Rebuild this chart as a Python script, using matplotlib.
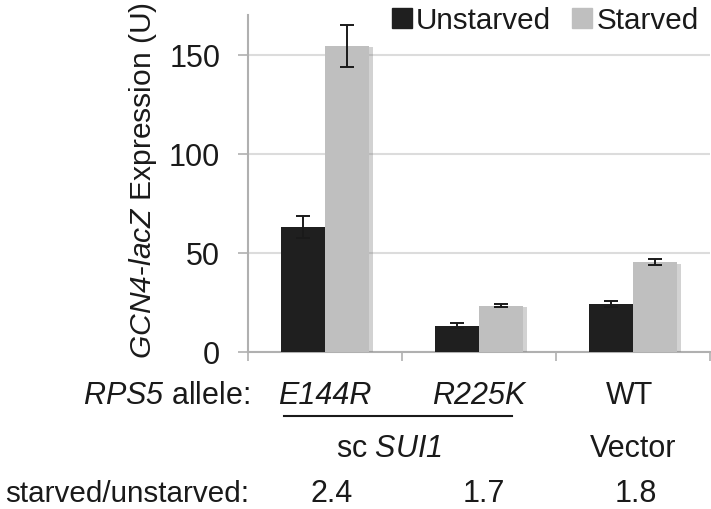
import matplotlib
matplotlib.use('Agg')
import matplotlib.pyplot as plt
import matplotlib.patheffects as pe
from matplotlib.transforms import blended_transform_factory
from matplotlib.patches import Patch
import numpy as np

# data
alleles = ['E144R', 'R225K', 'WT']
unstarved = [63.1, 13.3, 24.2]
unstarved_err = [5.6, 1.2, 1.4]
starved = [154.4, 23.4, 45.3]
starved_err = [10.6, 0.8, 1.5]
ratios = ['2.4', '1.7', '1.8']

plt.rcParams['font.family'] = 'Liberation Sans'
plt.rcParams['mathtext.fontset'] = 'custom'
plt.rcParams['mathtext.rm'] = 'Liberation Sans'
plt.rcParams['mathtext.sf'] = 'Liberation Sans:italic'   # used for italic gene names (keeps digits italic)
plt.rcParams['text.color'] = '#1a1a1a'

FS = 22
W, H = 711, 510
fig = plt.figure(figsize=(W / 100, H / 100), dpi=100)
ax = fig.add_axes([248 / W, 1 - 353 / H, 462 / W, 337 / H])

x = np.arange(len(alleles))
bw = 0.286
shadow = [pe.SimplePatchShadow(offset=(2.5, -1), shadow_rgbFace='#808080', alpha=0.35), pe.Normal()]
b1 = ax.bar(x - bw / 2, unstarved, bw, color='#1f1f1f', zorder=3)
b2 = ax.bar(x + bw / 2, starved, bw, color='#bfbfbf', zorder=3)
for b in list(b1) + list(b2):
    b.set_path_effects(shadow)
ax.errorbar(x - bw / 2, unstarved, yerr=unstarved_err, fmt='none', ecolor='#1a1a1a',
            elinewidth=1.4, capsize=5, capthick=1.4, zorder=4)
ax.errorbar(x + bw / 2, starved, yerr=starved_err, fmt='none', ecolor='#1a1a1a',
            elinewidth=1.4, capsize=5, capthick=1.4, zorder=4)

ax.set_xlim(-0.5, 2.5)
ax.set_ylim(0, 170)
ax.set_yticks([0, 50, 100, 150])
ax.set_xticks([-0.5, 0.5, 1.5, 2.5])
ax.set_xticklabels([])
ax.tick_params(axis='y', labelsize=FS, length=7, width=1.2, color='#b0b0b0', pad=13,
               labelcolor='#1a1a1a')
ax.tick_params(axis='x', length=6.5, width=1.2, color='#b0b0b0')
ax.grid(axis='y', color='#dcdcdc', lw=1.5, zorder=0)
ax.set_axisbelow(True)
for s in ['top', 'right']:
    ax.spines[s].set_visible(False)
for s in ['left', 'bottom']:
    ax.spines[s].set_color('#b0b0b0')
    ax.spines[s].set_linewidth(1.5)

fig.text(151 / W, 1 - 181 / H, r'$\mathsf{GCN4}$-$\mathsf{lacZ}$ Expression (U)',
         rotation=90, rotation_mode='anchor', ha='center', va='baseline', fontsize=21.6)

handles = [Patch(color='#1f1f1f'), Patch(color='#bfbfbf')]
ax.legend(handles, ['Unstarved', 'Starved'], ncol=2, frameon=False, fontsize=21.3,
          loc='upper right', bbox_to_anchor=(700 / W, 1 - 6 / H), bbox_transform=fig.transFigure,
          handlelength=0.68, handleheight=0.68, handletextpad=0.14, columnspacing=0.7,
          borderaxespad=0, borderpad=0.05)

# labels under the axis
tr = blended_transform_factory(ax.transData, fig.transFigure)
def ypos(px):
    return 1 - px / H

ax.text(-0.49, ypos(404), r'$\mathsf{RPS5}$ allele:', transform=tr, ha='right', va='baseline', fontsize=FS)
for xi, name in zip(x, alleles):
    ax.text(xi - 0.02 if name == 'WT' else xi, ypos(404), name, transform=tr, ha='center',
            va='baseline', fontsize=FS, style='normal' if name == 'WT' else 'italic')
ax.plot([-0.266, 1.214], [ypos(417), ypos(417)], transform=tr, color='#1a1a1a', lw=1.5,
        clip_on=False)
ax.text(0.416, ypos(457), r'sc $\mathsf{SUI1}$', transform=tr, ha='center', va='baseline', fontsize=FS)
ax.text(2.0, ypos(457), 'Vector', transform=tr, ha='center', va='baseline', fontsize=FS)
ax.text(-0.49, ypos(502), 'starved/unstarved:', transform=tr, ha='right', va='baseline', fontsize=21.3)
for xi, r in zip([0.04, 1.03, 2.02], ratios):
    ax.text(xi, ypos(502), r, transform=tr, ha='center', va='baseline', fontsize=FS)

fig.savefig('out.png', dpi=100)
